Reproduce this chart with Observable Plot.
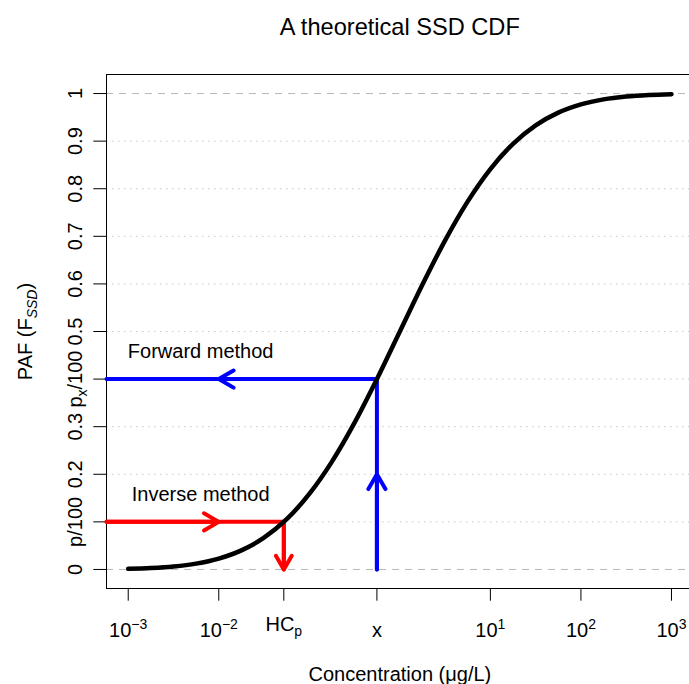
<!DOCTYPE html>
<html>
<head>
<meta charset="utf-8">
<script src="https://cdn.jsdelivr.net/npm/d3@7"></script>
<script src="https://cdn.jsdelivr.net/npm/@observablehq/plot@0.6"></script>
<style>
  html, body { margin: 0; padding: 0; background: #ffffff; }
  #chart svg { display: block; }
</style>
</head>
<body>
<div id="chart"></div>
<script>
// ---- Data ----
// SSD curve: log10(concentration) and PAF
const curveLog10Conc = [-3, -2.75, -2.5, -2.25, -2, -1.75, -1.5, -1.25, -1, -0.75, -0.5, -0.25, 0,
                        0.25, 0.5, 0.75, 1, 1.25, 1.5, 1.75, 2, 2.25, 2.5, 2.75, 3];
const curvePAF = [0.0013, 0.003, 0.0062, 0.0122, 0.0228, 0.0401, 0.0668, 0.1056, 0.1587, 0.2266, 0.3085, 0.4013, 0.5,
                  0.5987, 0.6915, 0.7734, 0.8413, 0.8944, 0.9332, 0.9599, 0.9772, 0.9878, 0.9938, 0.997, 0.9987];

// x axis ticks
const xTickPowers = [-3, -2, 1, 2, 3];
const xTickLabels = ["10^{\u22123}", "10^{\u22122}", "10^{1}", "10^{2}", "10^{3}"];
// special concentrations: HCp (inverse method) and x (forward method)
const specialNames = ["HC_{p}", "x"];
const specialConc = [0.0523, 0.558];
const specialPAF = [0.1, 0.4];

// y axis ticks
const yTickValues = [0, 0.1, 0.2, 0.3, 0.4, 0.5, 0.6, 0.7, 0.8, 0.9, 1];
const yTickLabels = ["0", "p/100", "0.2", "0.3", "p_{x}/100", "0.5", "0.6", "0.7", "0.8", "0.9", "1"];
const dottedGrid = [0.1, 0.2, 0.3, 0.4, 0.5, 0.6, 0.7, 0.8, 0.9];
const dashedGrid = [0, 1];

// arrow mid-points
const arrowConc = 0.01;     // tip of horizontal arrows
const arrowUpPAF = 0.2;     // tip of upward arrow

// annotation labels
const methodLabels = ["Forward method", "Inverse method"];
const methodLabelConc = [10 ** -2.2, 10 ** -2.2];
const methodLabelPAF = [0.458, 0.158];

const titleText = "A theoretical SSD CDF";
const xTitle = "Concentration (\u03bcg/L)";
const yTitle = "PAF (F_*{SSD})";

// scale extents (R style 4% padding)
const xDomain = [10 ** -3.24, 10 ** 3.24];
const yDomain = [-0.04, 1.04];

// ---- Build tables ----
const curve = curveLog10Conc.map((l, i) => ({conc: 10 ** l, paf: curvePAF[i]}));
const xMin = xDomain[0];
const hc = specialConc[0], xc = specialConc[1];
const redPath = [
  {conc: xMin, paf: specialPAF[0]},
  {conc: hc, paf: specialPAF[0]},
  {conc: hc, paf: 0}
];
const bluePath = [
  {conc: xc, paf: 0},
  {conc: xc, paf: specialPAF[1]},
  {conc: xMin, paf: specialPAF[1]}
];
const redArrows = [
  {x1: xMin, y1: specialPAF[0], x2: arrowConc, y2: specialPAF[0]},
  {x1: hc, y1: specialPAF[0], x2: hc, y2: 0}
];
const blueArrows = [
  {x1: xc, y1: 0, x2: xc, y2: arrowUpPAF},
  {x1: xc, y1: specialPAF[1], x2: arrowConc, y2: specialPAF[1]}
];

const FONT = "'Liberation Sans', Arial, Helvetica, sans-serif";
const FS = 20;
const W = 689, H = 684;

const plot = Plot.plot({
  width: W,
  height: H,
  marginLeft: 106,
  marginRight: 0,
  marginTop: 74,
  marginBottom: 96,
  style: {fontFamily: FONT, background: "#ffffff", color: "#000000"},
  x: {type: "log", domain: xDomain, range: [106, 692.7]},
  y: {domain: yDomain},
  marks: [
    // grid lines
    Plot.ruleY(dottedGrid, {y: d => d, stroke: "#c8c8c8", strokeWidth: 1, strokeDasharray: "1.5,4.5"}),
    Plot.ruleY(dashedGrid, {y: d => d, stroke: "#b8b8b8", strokeWidth: 1, strokeDasharray: "7,6"}),
    // box
    Plot.ruleY(yDomain, {y: d => d, stroke: "#000", strokeWidth: 1}),
    Plot.ruleX([xDomain[0]], {x: d => d, stroke: "#000", strokeWidth: 1}),
    // axes ticks
    Plot.axisX([...xTickPowers.map(p => 10 ** p), ...specialConc], {tickSize: 12.7, tickFormat: () => "", label: null, stroke: "#000"}),
    Plot.axisY(yTickValues, {tickSize: 12.7, tickFormat: () => "", label: null, stroke: "#000"}),
    // x tick labels
    Plot.text(xTickPowers, {x: d => 10 ** d, text: (d, i) => xTickLabels[i], frameAnchor: "bottom",
      textAnchor: "middle", lineAnchor: "middle", dy: 42, fontSize: FS, fill: "#000"}),
    Plot.text([specialConc[0]], {x: d => d, text: () => specialNames[0], frameAnchor: "bottom",
      textAnchor: "middle", lineAnchor: "middle", dy: 36, fontSize: FS, fill: "#000"}),
    Plot.text([specialConc[1]], {x: d => d, text: () => specialNames[1], frameAnchor: "bottom",
      textAnchor: "middle", lineAnchor: "middle", dy: 42, fontSize: FS, fill: "#000"}),
    // y tick labels (rotated)
    Plot.text(yTickValues, {y: d => d, text: (d, i) => yTickLabels[i], frameAnchor: "left", rotate: -90,
      textAnchor: "middle", lineAnchor: "middle", dx: -31, fontSize: FS, fill: "#000"}),
    // axis titles and main title
    Plot.text([1], {x: d => d, text: () => xTitle, frameAnchor: "bottom", textAnchor: "middle",
      lineAnchor: "middle", dy: 86, fontSize: FS, fill: "#000"}),
    Plot.text([yTitle], {text: d => d, frameAnchor: "left", rotate: -90, textAnchor: "middle",
      lineAnchor: "middle", dx: -81, fontSize: FS, fill: "#000"}),
    Plot.text([1], {x: d => d, text: () => titleText, frameAnchor: "top", textAnchor: "middle",
      lineAnchor: "middle", dy: -47, fontSize: 23.6, fill: "#000"}),
    // method labels
    Plot.text(methodLabels, {x: (d, i) => methodLabelConc[i], y: (d, i) => methodLabelPAF[i], text: d => d,
      textAnchor: "middle", lineAnchor: "middle", fontSize: FS, fill: "#000"}),
    // red (inverse) and blue (forward) paths
    Plot.line(redPath, {x: "conc", y: "paf", stroke: "#ff0000", strokeWidth: 4, strokeLinecap: "round", strokeLinejoin: "round"}),
    Plot.line(bluePath, {x: "conc", y: "paf", stroke: "#0000ff", strokeWidth: 4, strokeLinecap: "round", strokeLinejoin: "round"}),
    Plot.arrow(redArrows, {x1: "x1", y1: "y1", x2: "x2", y2: "y2", stroke: "#ff0000", strokeWidth: 4,
      headLength: 6.4, headAngle: 60, strokeLinecap: "round", strokeLinejoin: "round"}),
    Plot.arrow(blueArrows, {x1: "x1", y1: "y1", x2: "x2", y2: "y2", stroke: "#0000ff", strokeWidth: 4,
      headLength: 6.4, headAngle: 60, strokeLinecap: "round", strokeLinejoin: "round"}),
    // SSD curve
    Plot.line(curve, {x: "conc", y: "paf", stroke: "#000", strokeWidth: 4.5, curve: "monotone-x",
      strokeLinecap: "round", strokeLinejoin: "round"})
  ]
});

// Turn ^{..} and _{..} markers into real superscript / subscript tspans
const NS = "http://www.w3.org/2000/svg";
function richify(el) {
  const s = el.textContent;
  const re = /([\^_])(\*?)\{([^}]*)\}/g;
  if (!re.test(s)) return;
  re.lastIndex = 0;
  const fsAttr = parseFloat(el.getAttribute("font-size")) || parseFloat(el.parentNode.getAttribute("font-size")) || FS;
  const parts = [];
  let last = 0, m;
  while ((m = re.exec(s))) {
    if (m.index > last) parts.push({t: s.slice(last, m.index)});
    parts.push({t: m[3], op: m[1], italic: m[2] === "*"});
    last = m.index + m[0].length;
  }
  if (last < s.length) parts.push({t: s.slice(last)});
  el.textContent = "";
  let shift = 0;
  for (const p of parts) {
    const ts = document.createElementNS(NS, "tspan");
    const target = p.op === "^" ? -0.42 * fsAttr : p.op === "_" ? 0.25 * fsAttr : 0;
    const dy = target - shift;
    if (dy !== 0) ts.setAttribute("dy", dy.toFixed(2));
    shift = target;
    if (p.op) ts.setAttribute("font-size", (0.7 * fsAttr).toFixed(2));
    if (p.italic) ts.setAttribute("font-style", "italic");
    ts.textContent = p.t;
    el.appendChild(ts);
  }
}
plot.querySelectorAll("text").forEach(richify);

document.getElementById("chart").appendChild(plot);
</script>
</body>
</html>
